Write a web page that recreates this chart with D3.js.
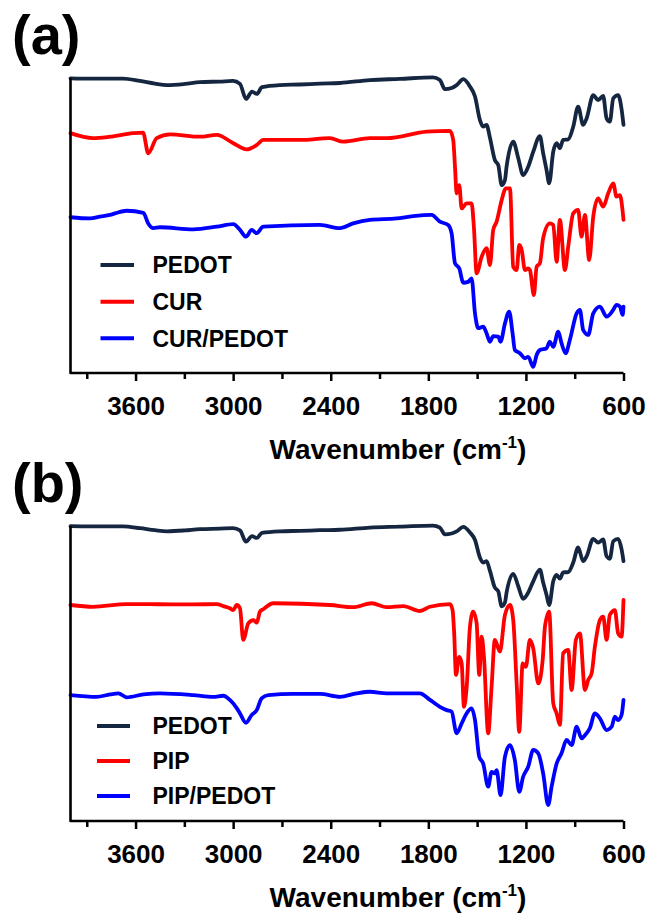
<!DOCTYPE html>
<html>
<head>
<meta charset="utf-8">
<script src="https://cdn.jsdelivr.net/npm/d3@7"></script>
<style>
  html, body { margin: 0; padding: 0; background: #fff; }
  svg { display: block; font-family: "Liberation Sans", Arial, sans-serif; }
</style>
</head>
<body>
<svg id="chart" width="653" height="918"></svg>
<script>
// ---------- data (wavenumber cm-1, transmittance in arbitrary offset units) ----------
const majorTicks = [3600, 3000, 2400, 1800, 1200, 600];
const minorTicks = [3900, 3300, 2700, 2100, 1500, 900];
const legendA = ["PEDOT", "CUR", "CUR/PEDOT"];
const legendB = ["PEDOT", "PIP", "PIP/PEDOT"];
const seriesColors = ["#152640", "#ff0000", "#0000ff"];

const pedotSpectrum = [
  [4000,99.9],[3880,99.8],[3757,99.8],[3677,99.8],[3573,99.0],[3481,98.1],[3407,97.6],[3296,98.0],
  [3204,98.6],[3081,98.8],[3001,99.0],[2958,98.0],[2921,92.9],[2884,95.4],[2854,94.6],[2823,96.9],
  [2712,97.6],[2589,97.8],[2466,98.1],[2343,98.3],[2159,99.3],[1975,99.7],[1772,100.2],[1729,99.3],
  [1698,96.2],[1657,96.6],[1626,97.6],[1585,99.6],[1544,97.1],[1513,93.7],[1483,85.8],[1463,83.5],
  [1442,84.1],[1421,79.7],[1391,72.2],[1370,70.5],[1349,63.7],[1329,65.4],[1319,69.9],[1278,78.4],
  [1247,72.8],[1217,67.1],[1186,69.9],[1155,75.0],[1114,80.3],[1094,74.5],[1073,68.8],[1057,64.3],
  [1032,75.0],[1011,77.9],[991,76.2],[971,79.0],[940,79.2],[909,83.5],[879,90.3],[848,84.1],
  [827,86.3],[786,94.2],[756,92.5],[725,93.9],[704,86.3],[684,85.2],[663,93.1],[633,94.2],
  [612,89.5],[600,84.1]
];

const curSpectrum = [
  [4000,81.3],[3862,79.6],[3757,80.1],[3616,81.3],[3554,81.5],[3522,74.5],[3470,79.6],[3388,80.9],
  [3204,80.1],[3101,80.7],[2999,77.9],[2917,75.8],[2855,77.3],[2815,79.0],[2589,79.0],[2405,79.6],
  [2323,78.4],[2159,79.6],[2056,79.6],[1810,81.8],[1667,82.1],[1647,79.0],[1636,69.9],[1626,60.9],
  [1610,63.7],[1595,55.8],[1565,57.5],[1534,57.5],[1520,49.6],[1503,33.8],[1472,39.4],[1442,42.3],
  [1421,36.6],[1401,48.5],[1380,51.3],[1349,58.6],[1323,62.6],[1298,62.6],[1278,36.0],[1257,34.9],
  [1241,43.4],[1226,41.7],[1206,34.9],[1186,35.5],[1175,34.9],[1151,26.4],[1134,36.0],[1114,37.2],
  [1094,45.7],[1053,50.7],[1032,50.2],[1011,37.7],[991,51.9],[960,34.9],[940,42.8],[909,54.1],
  [879,55.3],[858,46.2],[837,53.6],[811,38.3],[786,53.0],[756,59.2],[725,56.4],[694,60.9],
  [663,64.3],[643,59.8],[622,60.3],[605,54.7],[600,51.9]
];

const curPedotSpectrum = [
  [4000,52.8],[3880,52.4],[3819,53.0],[3757,53.6],[3726,54.1],[3655,55.0],[3552,54.3],[3522,50.7],
  [3491,49.1],[3450,49.4],[3245,48.7],[3101,49.6],[2999,50.5],[2958,48.5],[2921,46.2],[2886,48.5],
  [2855,47.4],[2815,49.6],[2466,50.2],[2343,49.1],[2262,50.7],[2159,51.9],[1995,52.4],[1893,53.2],
  [1780,53.6],[1729,51.3],[1678,50.2],[1657,47.4],[1636,37.2],[1610,35.5],[1585,30.6],[1555,30.9],
  [1534,32.1],[1513,20.2],[1493,15.2],[1463,15.7],[1442,13.5],[1421,10.6],[1401,12.5],[1370,12.3],
  [1356,10.6],[1329,16.8],[1303,20.8],[1282,13.5],[1268,7.8],[1237,6.7],[1206,5.0],[1186,5.5],
  [1155,2.1],[1134,6.1],[1114,7.8],[1073,8.4],[1053,10.6],[1032,8.9],[1001,14.0],[981,10.1],
  [956,6.7],[930,11.2],[888,20.2],[868,21.4],[848,14.6],[817,12.9],[786,20.2],[745,22.5],
  [704,19.1],[663,21.4],[643,23.1],[622,22.5],[605,19.7],[600,22.5]
];

const pipSpectrum = [
  [4000,64.3],[3862,63.5],[3655,64.7],[3245,64.6],[3101,64.7],[3061,63.8],[3020,62.8],[2999,62.0],
  [2978,64.3],[2958,62.8],[2938,48.5],[2907,56.0],[2876,57.5],[2855,56.3],[2835,61.3],[2815,62.4],
  [2753,65.1],[2405,64.3],[2262,63.3],[2148,65.1],[2056,63.3],[1954,63.8],[1852,61.6],[1790,63.5],
  [1667,64.7],[1651,62.0],[1641,51.5],[1630,32.7],[1610,40.9],[1595,37.9],[1581,18.3],[1564,27.4],
  [1544,54.5],[1524,61.3],[1503,56.0],[1487,32.7],[1472,50.0],[1458,40.9],[1432,6.3],[1411,27.4],
  [1391,48.5],[1360,43.2],[1329,59.8],[1298,64.3],[1278,57.5],[1257,28.9],[1241,7.0],[1220,37.9],
  [1200,36.4],[1176,48.5],[1155,44.7],[1124,28.9],[1097,39.4],[1083,54.5],[1057,61.3],[1032,19.9],
  [1011,15.3],[991,10.1],[971,42.5],[940,44.0],[919,25.9],[893,48.5],[868,51.5],[837,25.9],
  [817,30.4],[796,33.4],[776,45.4],[745,57.5],[725,59.0],[704,48.5],[684,59.8],[653,62.0],
  [633,51.5],[612,50.0],[600,66.6]
];

const pipPedotSpectrum = [
  [4000,23.6],[3839,22.8],[3757,23.9],[3706,24.4],[3655,22.6],[3552,23.9],[3450,24.4],[3245,23.6],
  [3122,22.8],[3061,23.3],[3020,21.4],[2978,17.7],[2958,15.3],[2921,11.1],[2886,14.6],[2855,16.8],
  [2825,22.1],[2784,23.6],[2630,24.1],[2466,24.1],[2343,22.8],[2241,24.4],[2159,25.1],[2056,24.4],
  [1852,24.4],[1790,21.4],[1729,18.3],[1687,16.8],[1657,16.1],[1626,6.3],[1595,10.8],[1565,15.3],
  [1534,17.6],[1513,12.3],[1487,-4.3],[1463,-7.3],[1432,-17.8],[1411,-11.1],[1391,-11.8],[1380,-10.3],
  [1356,-21.6],[1329,-4.3],[1298,1.0],[1268,-5.8],[1241,-20.1],[1217,-13.3],[1186,-8.8],[1155,-1.2],
  [1124,-2.7],[1094,-11.8],[1063,-26.1],[1042,-17.8],[1011,-7.3],[981,-2.7],[950,3.3],[919,1.0],
  [888,9.3],[858,4.0],[837,5.5],[807,8.6],[776,15.3],[745,13.1],[704,7.8],[673,9.3],
  [653,13.8],[633,12.3],[612,14.6],[600,21.4]
];

// ---------- drawing ----------
const svg = d3.select("#chart");

const x = d3.scaleLinear().domain([4000, 600]).range([70.5, 623.5]);

const panels = [
  { label: "(a)", labelY: 54, top: 78, bottom: 373, yDomain: [0, 100],
    series: [pedotSpectrum, curSpectrum, curPedotSpectrum], names: legendA,
    legX: [100.5, 134], legY: [265, 301.7, 338.3], titleY: 459 },
  { label: "(b)", labelY: 502, top: 526, bottom: 821, yDomain: [-33.3, 100],
    series: [pedotSpectrum, pipSpectrum, pipPedotSpectrum], names: legendB,
    legX: [97, 130], legY: [726, 761, 796], titleY: 907 }
];

panels.forEach(p => {
  const y = d3.scaleLinear().domain(p.yDomain).range([p.bottom, p.top]);
  const g = svg.append("g");

  // panel label
  g.append("text")
    .attr("x", 12).attr("y", p.labelY)
    .attr("font-size", 56).attr("font-weight", "bold")
    .text(p.label);

  // spectra
  const line = d3.line().curve(d3.curveMonotoneX).x(d => x(d[0])).y(d => y(d[1]));
  p.series.forEach((s, i) => {
    g.append("path")
      .datum(s)
      .attr("d", line)
      .attr("fill", "none")
      .attr("stroke", seriesColors[i])
      .attr("stroke-width", 3.8)
      .attr("stroke-linejoin", "round")
      .attr("stroke-linecap", "round");
  });

  // minor ticks
  const minorAxis = d3.axisBottom(x).tickValues(minorTicks).tickSize(6).tickFormat("");
  const ga = g.append("g").attr("transform", `translate(0,${p.bottom})`).call(minorAxis);
  ga.select(".domain").remove();
  ga.selectAll(".tick line").attr("stroke", "#000").attr("stroke-width", 2.5);

  // major ticks with labels
  const majorAxis = d3.axisBottom(x).tickValues(majorTicks).tickSize(8).tickPadding(16)
    .tickFormat(d3.format("d"));
  const gm = g.append("g").attr("transform", `translate(0,${p.bottom})`).call(majorAxis);
  gm.select(".domain").remove();
  gm.selectAll(".tick line").attr("stroke", "#000").attr("stroke-width", 2.5);
  gm.selectAll(".tick text")
    .attr("fill", "#000")
    .attr("font-family", "'Liberation Sans', Arial, sans-serif")
    .attr("font-size", 26).attr("font-weight", "bold");

  // L-shaped axis frame (left + bottom)
  const frame = d3.path();
  frame.moveTo(x(4000), p.top);
  frame.lineTo(x(4000), p.bottom);
  frame.lineTo(x(600), p.bottom);
  g.append("path").attr("d", frame.toString())
    .attr("fill", "none").attr("stroke", "#000").attr("stroke-width", 2.6)
    .attr("stroke-linejoin", "round");

  // axis title
  const t = g.append("text")
    .attr("x", 398).attr("y", p.titleY)
    .attr("text-anchor", "middle")
    .attr("font-size", 28).attr("font-weight", "bold");
  t.append("tspan").text("Wavenumber (cm");
  t.append("tspan").attr("font-size", 17).attr("dy", -11).text("-1");
  t.append("tspan").attr("dy", 11).text(")");

  // legend
  p.names.forEach((name, i) => {
    g.append("line")
      .attr("x1", p.legX[0]).attr("x2", p.legX[1])
      .attr("y1", p.legY[i]).attr("y2", p.legY[i])
      .attr("stroke", seriesColors[i]).attr("stroke-width", 4);
    g.append("text")
      .attr("x", 152.5).attr("y", p.legY[i]).attr("dy", "0.36em")
      .attr("font-size", 23).attr("font-weight", "bold")
      .text(name);
  });
});
</script>
</body>
</html>
